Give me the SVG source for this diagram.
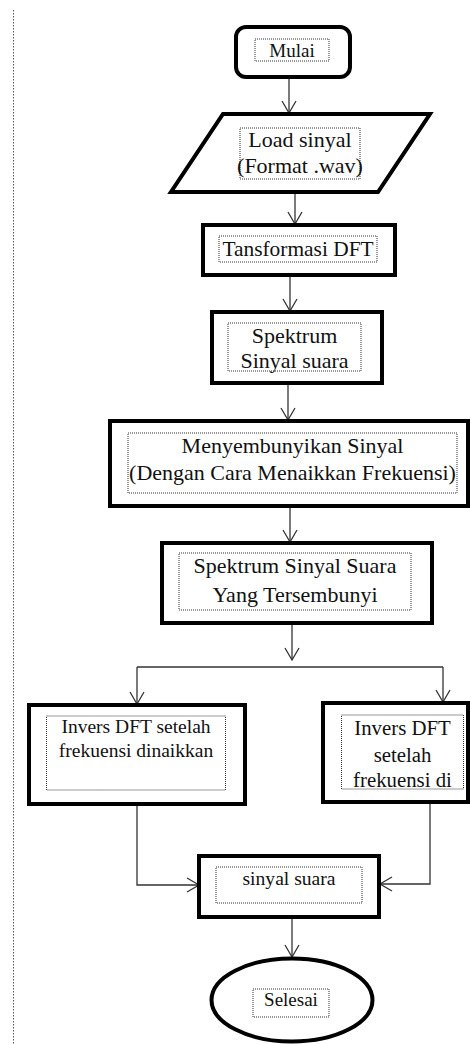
<svg xmlns="http://www.w3.org/2000/svg" width="470" height="1044" viewBox="0 0 470 1044">
<style>
.box{fill:#fff;stroke:#000;stroke-width:4}
.tb{fill:none;stroke:#333;stroke-width:1;stroke-dasharray:1 1}
.t{font-family:'Liberation Serif','Times New Roman',Tinos,'DejaVu Serif',serif;fill:#111;text-anchor:middle}
.c{fill:none;stroke:#333;stroke-width:1.3}
</style>
<defs>
<marker id="arr" markerUnits="userSpaceOnUse" markerWidth="20" markerHeight="20" viewBox="-14 -10 16 20" refX="0" refY="0" orient="auto">
<path d="M-12,-7 L0,0 L-12,7" fill="none" stroke="#333" stroke-width="1.3"/>
</marker>
</defs>
<rect width="470" height="1044" fill="#fff"/>
<line x1="13.5" y1="10" x2="13.5" y2="1044" stroke="#555" stroke-width="1" stroke-dasharray="1.5 1.5"/>
<g id="connectors">
<path class="c" d="M289,77 V113" marker-end="url(#arr)"/>
<path class="c" d="M295,192 V224" marker-end="url(#arr)"/>
<path class="c" d="M290,275 V311" marker-end="url(#arr)"/>
<path class="c" d="M288,383 V420" marker-end="url(#arr)"/>
<path class="c" d="M290,506 V542" marker-end="url(#arr)"/>
<path class="c" d="M292,623 V660" marker-end="url(#arr)"/>
<path class="c" d="M137,667 H443"/>
<path class="c" d="M137,667 V704" marker-end="url(#arr)"/>
<path class="c" d="M443,667 V702" marker-end="url(#arr)"/>
<path class="c" d="M137,804 V885 H199" marker-end="url(#arr)"/>
<path class="c" d="M430,802 V884 H380" marker-end="url(#arr)"/>
<path class="c" d="M292,917 V957" marker-end="url(#arr)"/>
</g>
<g id="mulai">
<rect class="box" x="236" y="27" width="114" height="50" rx="10" stroke-width="3.5"/>
<rect class="tb" x="255" y="39" width="74" height="22"/>
<text class="t" x="292" y="57" font-size="19">Mulai</text>
</g>
<g id="load">
<polygon class="box" points="223,114 430,114 378,192 171,192"/>
<rect class="tb" x="240" y="128" width="120" height="51"/>
<text class="t" x="300" y="147" font-size="22">Load sinyal</text>
<text class="t" x="300" y="173" font-size="22">(Format .wav)</text>
</g>
<g id="dft">
<rect class="box" x="203" y="225" width="192" height="50"/>
<rect class="tb" x="219" y="236" width="158" height="26"/>
<text class="t" x="298" y="256" font-size="21.4">Tansformasi DFT</text>
</g>
<g id="spektrum">
<rect class="box" x="212" y="312" width="170" height="71"/>
<rect class="tb" x="228" y="323" width="133" height="48"/>
<text class="t" x="294.5" y="343" font-size="22">Spektrum</text>
<text class="t" x="294.5" y="368" font-size="22">Sinyal suara</text>
</g>
<g id="menyembunyikan">
<rect class="box" x="110" y="421" width="358" height="85"/>
<rect class="tb" x="128" y="433" width="329" height="60"/>
<text class="t" x="292.5" y="453" font-size="22">Menyembunyikan Sinyal</text>
<text class="t" x="292.5" y="480" font-size="22">(Dengan Cara Menaikkan Frekuensi)</text>
</g>
<g id="tersembunyi">
<rect class="box" x="162" y="543" width="270" height="80"/>
<rect class="tb" x="179" y="553" width="232" height="57"/>
<text class="t" x="295" y="573" font-size="22">Spektrum Sinyal Suara</text>
<text class="t" x="295" y="601.5" font-size="22">Yang Tersembunyi</text>
</g>
<g id="invers-kiri">
<rect class="box" x="29" y="705" width="216" height="99"/>
<rect class="tb" x="46.5" y="716" width="179" height="74"/>
<text class="t" x="136" y="733" font-size="19.5">Invers DFT setelah</text>
<text class="t" x="136" y="756.5" font-size="19.5">frekuensi dinaikkan</text>
</g>
<g id="invers-kanan">
<rect class="box" x="323" y="703" width="145" height="99"/>
<rect class="tb" x="341.5" y="715" width="122" height="74"/>
<text class="t" x="402.5" y="735" font-size="20.8">Invers DFT</text>
<text class="t" x="402.5" y="761.5" font-size="20.8">setelah</text>
<text class="t" x="402.5" y="786.5" font-size="20.8">frekuensi di</text>
</g>
<g id="sinyal-suara">
<rect class="box" x="199" y="856" width="180" height="61"/>
<rect class="tb" x="216" y="867" width="146" height="36"/>
<text class="t" x="289" y="885" font-size="19.6">sinyal suara</text>
</g>
<g id="selesai">
<ellipse class="box" cx="292" cy="1000" rx="80.5" ry="41.5" stroke-width="3.5"/>
<rect class="tb" x="253" y="989" width="76" height="28"/>
<text class="t" x="291" y="1005.5" font-size="19">Selesai</text>
</g>
</svg>
